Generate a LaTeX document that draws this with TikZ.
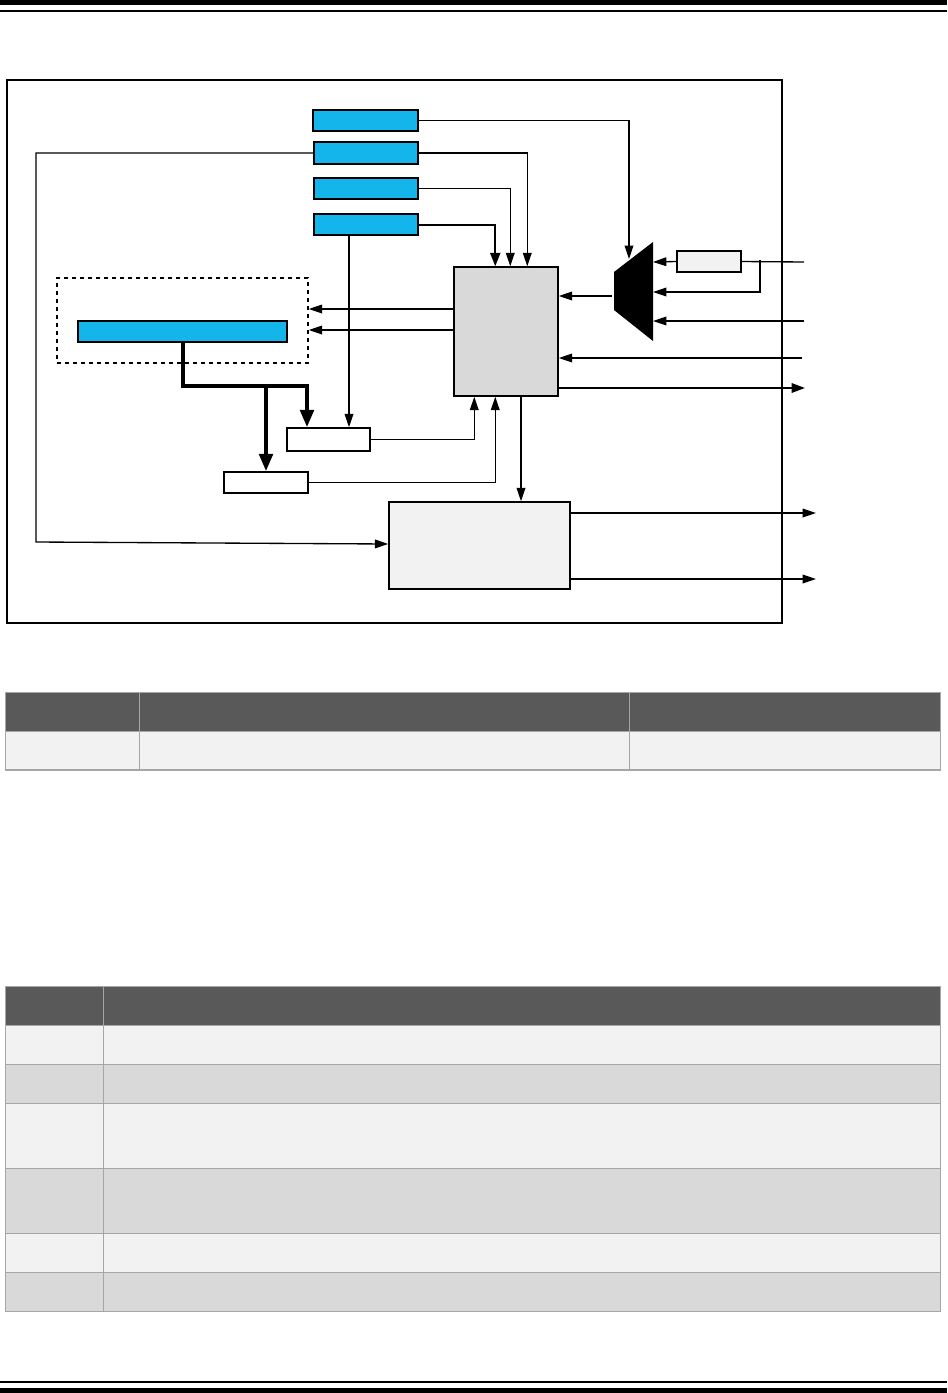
\documentclass[tikz,border=0pt]{standalone}
\usetikzlibrary{arrows.meta,calc,fit}
\definecolor{blu}{HTML}{13B5EA}
\definecolor{hdr}{HTML}{595959}
\definecolor{rowa}{HTML}{F2F2F2}
\definecolor{rowb}{HTML}{D9D9D9}
\definecolor{grid}{HTML}{A6A6A6}
\tikzset{
  bx/.style={draw, line width=1.1pt, inner sep=0pt},
  bluebox/.style={bx, fill=blu},
  whitebox/.style={bx, fill=white},
  lightbox/.style={bx, fill=rowa},
  graybox/.style={bx, fill=rowb},
  ln/.style={line width=1pt},
  arr/.style={ln, -{Triangle[length=10pt,width=6.5pt]}},
  arrb/.style={line width=1.6pt, -{Triangle[length=10pt,width=7pt]}},
  arrm/.style={line width=1.5pt, -{Triangle[length=10pt,width=7.5pt]}},
  busarr/.style={line width=3pt, -{Triangle[length=13pt,width=10pt]}},
  cell/.style={draw=grid, line width=0.8pt}
}
\begin{document}
\begin{tikzpicture}[x=0.75pt,y=-0.75pt]
\useasboundingbox (0,0) rectangle (947,1393);
% page rules
\fill (0,0) rectangle (947,5);
\fill (0,9.5) rectangle (947,11.5);
\fill (0,1380.7) rectangle (947,1382.7);
\fill (0,1387.7) rectangle (947,1393);
% frame
\node[draw, line width=1.2pt, inner sep=0pt, fit={(7,80) (782,623)}] (fr) {};
% blue boxes
\node[bluebox, fit={(313,110) (418,131)}] (b1) {};
\node[bluebox, fit={(314,142) (418,164)}] (b2) {};
\node[bluebox, fit={(314,178) (418,199)}] (b3) {};
\node[bluebox, fit={(314,214) (418,235)}] (b4) {};
% central box
\node[graybox, fit={(454,267) (558,396)}] (cb) {};
% dashed box and bar
\node[draw, dashed, line width=1.1pt, inner sep=0pt, fit={(57,278) (308,363)}] (db) {};
\node[bluebox, fit={(78,321) (287,342)}] (bar) {};
% small boxes
\node[whitebox, fit={(287,428) (370,451)}] (sa) {};
\node[whitebox, fit={(224,472) (308,493)}] (sbx) {};
% lower box
\node[lightbox, fit={(389,502) (570,589)}] (lb) {};
% mux small box
\node[lightbox, fit={(677,251) (741,272)}] (sm) {};
% mux
\coordinate (m1) at (614,272);
\coordinate (m2) at (653,242);
\coordinate (m3) at (653,341);
\coordinate (m4) at (614,310);
\fill (m1) -- (m2) -- (m3) -- (m4) -- cycle;
\coordinate (muxin) at (629,259);
\coordinate (muxout) at (612,296);
\coordinate (mi1) at (653,262);
\coordinate (mi2) at (653,292);
\coordinate (mi3) at (653,321);
% coordinates for free ends
\coordinate (in1) at (804,262);
\coordinate (br) at (760,260);
\coordinate (in3) at (804,321);
\coordinate (in4) at (802,358);
\coordinate (o1) at (805,388);
\coordinate (o2) at (816,513);
\coordinate (o3) at (816,579);
\coordinate (c1) at (36,153);
\coordinate (c2) at (36,542);
\coordinate (bk) at (307,386);
\coordinate (bb) at (266,386);
\coordinate (v4) at (349,235);
\coordinate (xd) at (521,0);
\coordinate (d1) at (0,309);
\coordinate (d2) at (0,330);
% connectors from blue boxes
\draw[arr] (b1.east) -| (muxin);
\draw[arr] (b2.east) -| ($(cb.north west)+(74,0)$);
\draw[arr] (b3.east) -| ($(cb.north west)+(57,0)$);
\draw[arrm] (b4.east) -| ($(cb.north west)+(42,0)$);
\draw[arr] (b2.west) -- (c1) -- (c2) -- ($(lb.west)+(0,-1.5)$);
\draw[arr] (v4) -- (v4 |- sa.north);
% mux connections
\draw[arr] (muxout) -- (muxout -| cb.east);
\draw[ln] (in1) -- (sm.east);
\draw[arr] (sm.west) -- (mi1);
\draw[arr] (br) |- (mi2);
\draw[arr] (in3) -- (mi3);
\draw[arr] (in4) -- (in4 -| cb.east);
\draw[arrb] (o1 -| cb.east) -- (o1);
% to dashed box
\draw[arr] (cb.west |- d1) -- (db.east |- d1);
\draw[arr] (cb.west |- d2) -- (db.east |- d2);
% bus
\draw[busarr] (bar.south) |- (bk) -- (bk |- sa.north);
\draw[busarr] (bb) -- (bb |- sbx.north);
% small boxes to central box
\draw[arr] (sa.east) -| ($(cb.south west)+(21,0)$);
\draw[arr] (sbx.east) -| ($(cb.south west)+(42,0)$);
% central to lower box
\draw[arr] (cb.south -| xd) -- (lb.north -| xd);
% lower outputs
\draw[arr] (o2 -| lb.east) -- (o2);
\draw[arr] (o3 -| lb.east) -- (o3);
% table 1
\fill[hdr] (5.4,692.7) rectangle (940.3,731.3);
\fill[rowa] (5.4,731.3) rectangle (940.3,770);
\draw[cell] (5.4,692.7) rectangle (940.3,770);
\draw[cell] (5.4,731.3) -- (940.3,731.3);
\draw[cell] (139.5,692.7) -- (139.5,770);
\draw[cell] (629.3,692.7) -- (629.3,770);
% table 2
\fill[hdr] (5.4,986.3) rectangle (940.3,1025.3);
\fill[rowa] (5.4,1025.3) rectangle (940.3,1064.3);
\fill[rowb] (5.4,1064.3) rectangle (940.3,1103.3);
\fill[rowa] (5.4,1103.3) rectangle (940.3,1168.3);
\fill[rowb] (5.4,1168.3) rectangle (940.3,1233.3);
\fill[rowa] (5.4,1233.3) rectangle (940.3,1272.3);
\fill[rowb] (5.4,1272.3) rectangle (940.3,1311.3);
\draw[cell] (5.4,986.3) rectangle (940.3,1311.3);
\foreach \yy in {1025.3,1064.3,1103.3,1168.3,1233.3,1272.3}
  \draw[cell] (5.4,\yy) -- (940.3,\yy);
\draw[cell] (103.9,986.3) -- (103.9,1311.3);
\end{tikzpicture}
\end{document}
